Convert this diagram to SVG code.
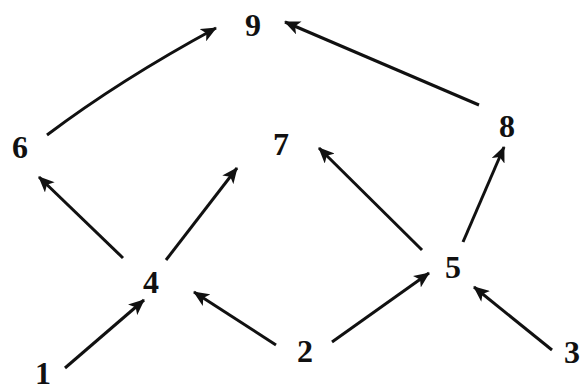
<svg xmlns="http://www.w3.org/2000/svg" width="585" height="390" viewBox="0 0 585 390">
<style>
.lbl{font-family:"Liberation Serif","DejaVu Serif",serif;font-weight:bold;font-size:32px;fill:#111;text-anchor:middle}
.e{stroke:#111;stroke-width:3;fill:none;marker-end:url(#ah)}
</style>
<defs>
<marker id="ah" markerUnits="userSpaceOnUse" markerWidth="16" markerHeight="14" viewBox="0 0 16 14" refX="15" refY="7" orient="auto">
<path d="M0,0 L16,7 L0,14 L4,7 Z" fill="#111"/>
</marker>
</defs>
<rect width="585" height="390" fill="#fff"/>
<g id="edges">
<path class="e" d="M47,135 Q120,80 216,28"/>
<line class="e" x1="479" y1="105" x2="285" y2="22"/>
<line class="e" x1="123" y1="258" x2="39" y2="177"/>
<line class="e" x1="166" y1="260" x2="237" y2="168"/>
<line class="e" x1="422" y1="250" x2="319" y2="148"/>
<line class="e" x1="463" y1="242" x2="504" y2="147"/>
<line class="e" x1="65" y1="368" x2="144" y2="300"/>
<line class="e" x1="276" y1="345" x2="194" y2="292"/>
<line class="e" x1="332" y1="342" x2="429" y2="273"/>
<line class="e" x1="552" y1="350" x2="474" y2="287"/>
</g>
<g id="n9"><text class="lbl" x="253" y="36">9</text></g>
<g id="n6"><text class="lbl" x="20" y="158">6</text></g>
<g id="n7"><text class="lbl" x="281" y="155">7</text></g>
<g id="n8"><text class="lbl" x="507" y="137">8</text></g>
<g id="n4"><text class="lbl" x="151" y="293">4</text></g>
<g id="n5"><text class="lbl" x="453" y="278">5</text></g>
<g id="n1"><text class="lbl" x="43" y="384">1</text></g>
<g id="n2"><text class="lbl" x="305" y="362">2</text></g>
<g id="n3"><text class="lbl" x="572" y="363">3</text></g>
</svg>
